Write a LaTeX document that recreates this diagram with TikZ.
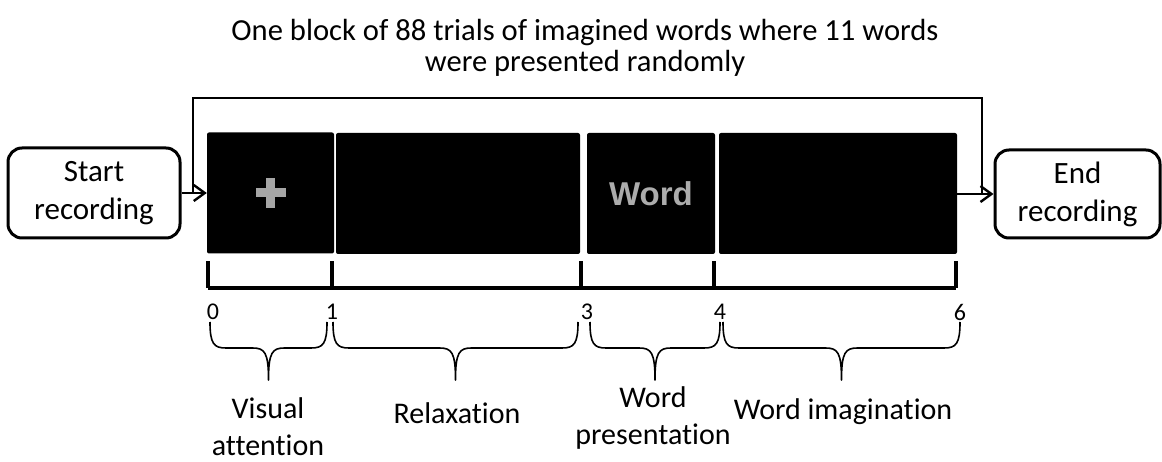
\documentclass[tikz,border=0pt]{standalone}
\usepackage{fontspec}
\setmainfont{Carlito}[Ligatures={NoCommon}]
\newfontfamily\wordfont{Liberation Sans}
\usetikzlibrary{arrows.meta,calc}
\begin{document}
\begin{tikzpicture}[x=1pt,y=-1pt,
  endbox/.style={draw, line width=3pt, rounded corners=14pt, align=center,
    font=\fontsize{31}{38}\selectfont, inner sep=0pt},
  slide/.style={fill=black, rounded corners=2pt, inner sep=0pt, minimum height=121pt},
  flow/.style={line width=2.4pt, -{Straight Barb[length=11pt,width=16pt,line width=2.4pt]}},
  loop/.style={line width=2.4pt},
  axis/.style={line width=4pt},
  tick/.style={font=\fontsize{24}{24}\selectfont, inner sep=0pt},
  brace/.style={line width=1.6pt, line join=round},
  phase/.style={align=center, font=\fontsize{30}{37}\selectfont, inner sep=0pt}]
\useasboundingbox (0,0) rectangle (1162,462);

% title
\node[align=center, font=\fontsize{30.6}{31}\selectfont, inner sep=0pt] (title) at (585,48)
  {One block of 88 trials of imagined words where 11 words\\were presented randomly};

% start / end
\node[endbox, minimum width=172pt, minimum height=90pt] (start) at (94,193) {Start\\recording};
\node[endbox, minimum width=165pt, minimum height=88pt] (end) at (1077.5,194) {End\\recording};

% the four screens of one trial
\node[slide, minimum width=127pt] (s1) at (270.5,193) {};
\node[slide, minimum width=244pt] (s2) at (458,193.5) {};
\node[slide, minimum width=128pt] (s3) at (651,193.5) {};
\node[slide, minimum width=238pt] (s4) at (838,193.5) {};

% fixation cross
\node[inner sep=0pt, minimum size=0pt] (cross) at (s1.center) {};
\fill[gray!70] ($(cross)+(-15,-4.5)$) rectangle ($(cross)+(15,4.5)$);
\fill[gray!70] ($(cross)+(-4.5,-15)$) rectangle ($(cross)+(4.5,15)$);

% word cue
\node[font=\wordfont\bfseries\fontsize{33}{33}\selectfont, text=gray!65, inner sep=0pt] (word) at (s3.center) {Word};

% flow arrows and the repeat loop
\coordinate (jl) at (193,193);
\coordinate (jr) at (982,194);
\coordinate (tl) at (193,98);
\coordinate (tr) at (982,98);
\draw[flow] (start.east) -- (s1.west);
\draw[flow] (s4.east |- end.west) -- (end.west);
\draw[loop] (jl) -- (tl) -- (tr) -- (jr);

% timeline
\coordinate (t0) at (208,288);
\coordinate (t1) at (332,288);
\coordinate (t3) at (581,288);
\coordinate (t4) at (714,288);
\coordinate (t6) at (956,288);
\draw[axis] (t0) -- (t6);
\foreach \t in {t0,t1,t3,t4,t6}
  \draw[axis] (\t) -- ++(0,-27);

\node[tick] (n0) at (213,312) {0};
\node[tick] (n1) at (332,312) {1};
\node[tick] (n3) at (587,312) {3};
\node[tick] (n4) at (720,312) {4};
\node[tick] (n6) at (960,312) {6};

% braces under each interval
\newcommand{\phasebrace}[2]{%
  \pgfmathsetmacro{\bm}{(#1+#2)/2}
  \draw[brace] (#1,322) .. controls (#1,344) and (#1+4,348) .. (#1+16,348)
    -- (\bm-16,348) .. controls (\bm-4,348) and (\bm,352) .. (\bm,380)
    .. controls (\bm,352) and (\bm+4,348) .. (\bm+16,348)
    -- (#2-16,348) .. controls (#2-4,348) and (#2,344) .. (#2,322);}
\phasebrace{210}{327}
\phasebrace{333}{578}
\phasebrace{590}{720}
\phasebrace{723}{960}

% phase names
\node[phase] (pa) at (268,427) {Visual\\attention};
\node[phase] (pb) at (457,413) {Relaxation};
\node[phase] (pc) at (653,418) {Word\\presentation};
\node[phase] (pd) at (843,412) {Word imagination};
\end{tikzpicture}
\end{document}
